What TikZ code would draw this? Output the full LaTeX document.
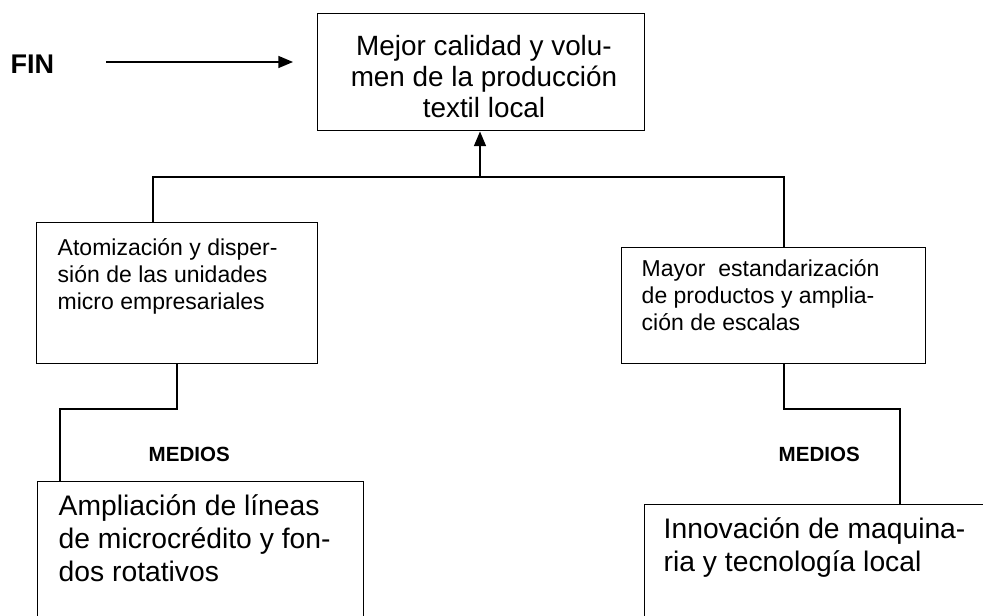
\documentclass[tikz,border=0pt]{standalone}
\usepackage{fontspec}
\setmainfont{Liberation Sans}
\usetikzlibrary{arrows.meta}

\begin{document}
\begin{tikzpicture}[x=0.75pt,y=-0.75pt,line width=1.1pt,
		caja/.style={draw,rectangle,inner sep=0pt,anchor=north west},
		texto/.style={anchor=north west,inner sep=0pt},
		medio/.style={font=\fontsize{17.25}{20.25}\selectfont},
		grande/.style={font=\fontsize{21.2}{24.75}\selectfont},
		rotulo/.style={anchor=base west,inner sep=0pt},
		flecha/.style={-{Triangle[length=11pt,width=9pt]}}]
		\useasboundingbox (0,0) rectangle (983,616);
		\clip (0,0) rectangle (983,616);

		\node[caja,minimum width=245.25pt,minimum height=87.75pt] (meta) at (317,13) {};
		\node[caja,minimum width=210.75pt,minimum height=105.75pt] (atom) at (36,222) {};
		\node[caja,minimum width=228pt,minimum height=87pt] (estand) at (621,247) {};
		\node[caja,minimum width=244.5pt,minimum height=120pt] (credito) at (37,481) {};
		\node[caja,minimum width=270pt,minimum height=102.75pt] (innova) at (644,504) {};

		\node[anchor=north,inner sep=0pt,font=\fontsize{20.9}{23.25}\selectfont] (metatxt) at (484,33.3) {\begin{tabular}{@{}c@{}}Mejor calidad y volu-\\men de la producción\\textil local\end{tabular}};
		\node[texto,medio] (atomtxt) at (57,236.1) {\begin{tabular}{@{}l@{}}Atomización y disper-\\sión de las unidades\\micro empresariales\end{tabular}};
		\node[texto,medio] (estandtxt) at (641,257.1) {\begin{tabular}{@{}l@{}}Mayor~ estandarización\\de productos y amplia-\\ción de escalas\end{tabular}};
		\node[texto,grande] (creditotxt) at (58,491.9) {\begin{tabular}{@{}l@{}}Ampliación de líneas\\de microcrédito y fon-\\dos rotativos\end{tabular}};
		\node[texto,grande] (innovatxt) at (663,514.9) {\begin{tabular}{@{}l@{}}Innovación de maquina-\\ria y tecnología local\end{tabular}};

		\node[rotulo,font=\bfseries\fontsize{20.25}{24}\selectfont] (fin) at (10,74) {FIN};
		\node[rotulo,font=\bfseries\fontsize{15.4}{18}\selectfont] (medios1) at (148,462) {MEDIOS};
		\node[rotulo,font=\bfseries\fontsize{15.4}{18}\selectfont] (medios2) at (778,462) {MEDIOS};

		\coordinate (finA) at (106,62);
		\coordinate (finB) at (293,62);
		\coordinate (lj) at (153,177);
		\coordinate (rj) at (784,177);
		\coordinate (split) at (480,177);
		\coordinate (lb1) at (177,409);
		\coordinate (lb2) at (60,409);
		\coordinate (rb1) at (784,409);
		\coordinate (rb2) at (900,409);

		\draw[flecha] (finA) -- (finB);
		\draw (lj |- atom.north) -- (lj) -- (rj) -- (rj |- estand.north);
		\draw[flecha] (split) -- (split |- meta.south);
		\draw (lb1 |- atom.south) -- (lb1) -- (lb2) -- (lb2 |- credito.north);
		\draw (rb1 |- estand.south) -- (rb1) -- (rb2) -- (rb2 |- innova.north);
	\end{tikzpicture}
\end{document}
